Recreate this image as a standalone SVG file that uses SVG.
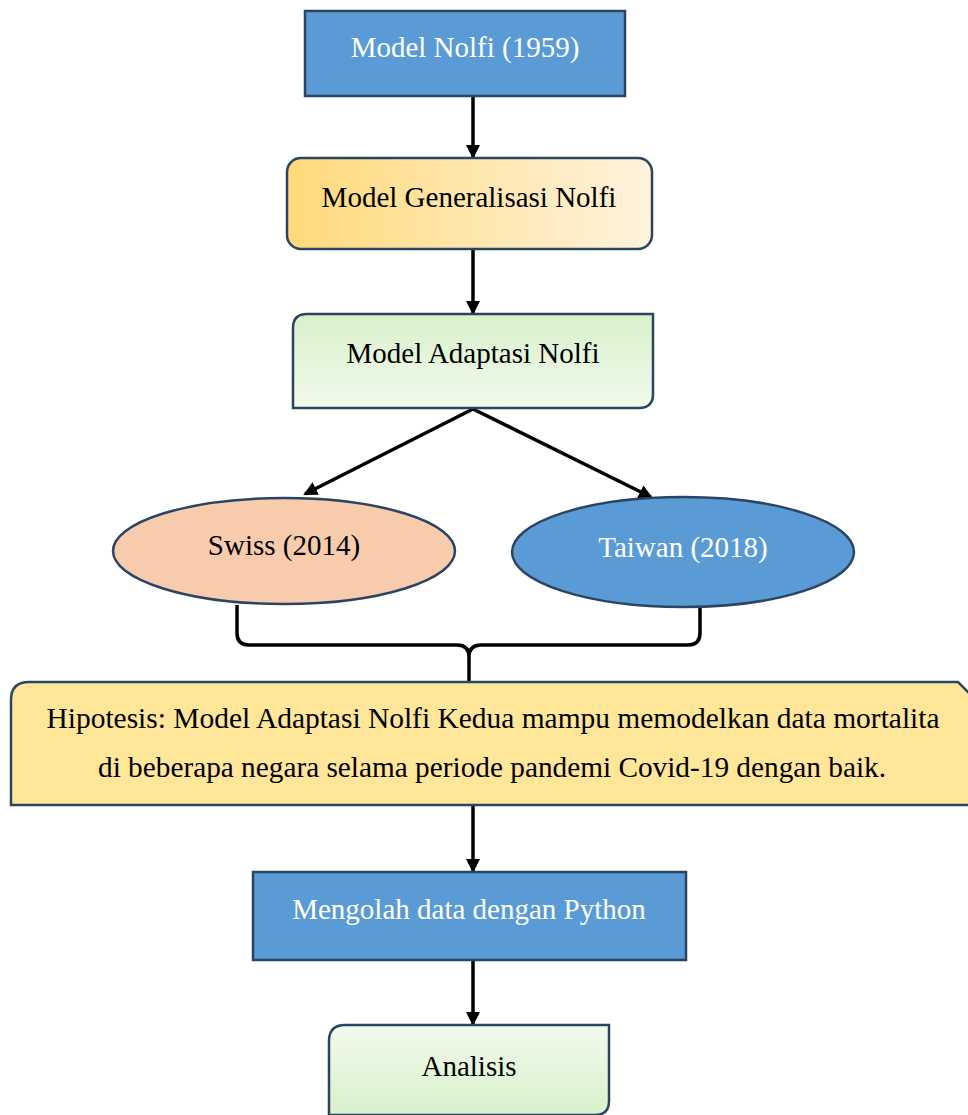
<svg xmlns="http://www.w3.org/2000/svg" width="968" height="1115" viewBox="0 0 968 1115" font-family="'Liberation Serif', 'Times New Roman', Times, serif">
<defs>
<linearGradient id="gOrange" x1="0" y1="0" x2="1" y2="0">
<stop offset="0" stop-color="#FFD97A"/><stop offset="1" stop-color="#FFF3DE"/>
</linearGradient>
<linearGradient id="gGreen" x1="0" y1="0" x2="0" y2="1">
<stop offset="0" stop-color="#D9F1CB"/><stop offset="1" stop-color="#F1FAEC"/>
</linearGradient>
<linearGradient id="gGreen2" x1="0" y1="0" x2="0" y2="1">
<stop offset="0" stop-color="#F1FAEC"/><stop offset="1" stop-color="#D9F1CB"/>
</linearGradient>
<marker id="arr" markerWidth="14" markerHeight="14" refX="12" refY="7" orient="auto" markerUnits="userSpaceOnUse" viewBox="0 0 14 14">
<path d="M0,0 L14,7 L0,14 z" fill="#000"/>
</marker>
<style>
.box{stroke:#2A4563;stroke-width:2.5}
.blue{fill:#5B9BD5}
.t{font-family:'Liberation Serif','Times New Roman',Times,serif;font-size:29px;text-anchor:middle}
.w{fill:#FFFFFF}
.k{fill:#000000}
.c{fill:none;stroke:#000;stroke-width:3.5}
</style>
</defs>
<g id="connectors">
<line class="c" x1="473" y1="96" x2="473" y2="157" marker-end="url(#arr)"/>
<line class="c" x1="473" y1="249" x2="473" y2="313" marker-end="url(#arr)"/>
<line class="c" x1="473" y1="409" x2="305" y2="494" marker-end="url(#arr)"/>
<line class="c" x1="473" y1="409" x2="651" y2="497" marker-end="url(#arr)"/>
<path class="c" d="M237,605 L237,633 Q237,645 249,645 L457,645 Q469,645 469,657 L469,684 M469,657 Q469,645 481,645 L688,645 Q700,645 700,633 L700,605"/>
<line class="c" x1="473" y1="805" x2="473" y2="871" marker-end="url(#arr)"/>
<line class="c" x1="473" y1="960" x2="473" y2="1024" marker-end="url(#arr)"/>
</g>
<g id="n1">
<rect class="box blue" x="305" y="11" width="320" height="85"/>
<text class="t w" x="465" y="57">Model Nolfi (1959)</text>
</g>
<g id="n2">
<rect class="box" fill="url(#gOrange)" x="287" y="158" width="365" height="91" rx="14"/>
<text class="t k" x="469" y="207">Model Generalisasi Nolfi</text>
</g>
<g id="n3">
<path class="box" fill="url(#gGreen)" d="M307,314 L653,314 L653,394 Q653,408 639,408 L293,408 L293,328 Q293,314 307,314 Z"/>
<text class="t k" x="473" y="363">Model Adaptasi Nolfi</text>
</g>
<g id="n4">
<ellipse class="box" fill="#F8CBAD" cx="284" cy="551" rx="171" ry="53"/>
<text class="t k" x="284" y="555">Swiss (2014)</text>
</g>
<g id="n5">
<ellipse class="box blue" cx="683" cy="552" rx="171" ry="55"/>
<text class="t w" x="683" y="557">Taiwan (2018)</text>
</g>
<g id="n6">
<path class="box" fill="#FFE699" d="M29,682 L958,682 L970,694 L970,805 L11,805 L11,700 Q11,682 29,682 Z"/>
<text class="t k" x="493" y="728" textLength="893" lengthAdjust="spacingAndGlyphs">Hipotesis: Model Adaptasi Nolfi Kedua mampu memodelkan data mortalita</text>
<text class="t k" x="492" y="777" textLength="788" lengthAdjust="spacingAndGlyphs">di beberapa negara selama periode pandemi Covid-19 dengan baik.</text>
</g>
<g id="n7">
<rect class="box blue" x="253" y="872" width="433" height="88"/>
<text class="t w" x="469" y="919">Mengolah data dengan Python</text>
</g>
<g id="n8">
<path class="box" fill="url(#gGreen2)" d="M345,1025 L609,1025 L609,1101 Q609,1115 595,1115 L329,1115 L329,1041 Q329,1025 345,1025 Z"/>
<text class="t k" x="469" y="1076">Analisis</text>
</g>
</svg>
